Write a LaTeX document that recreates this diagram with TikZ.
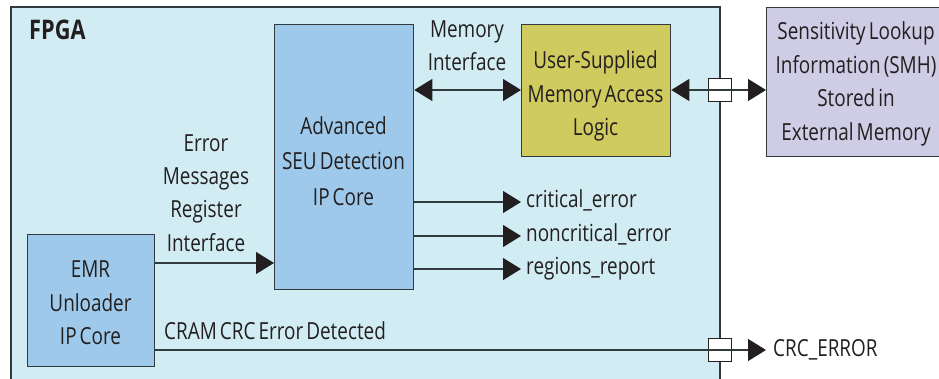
\documentclass[tikz,border=0pt]{standalone}
\usepackage{fontspec}
\setmainfont[FakeStretch=0.805,WordSpace=0.62]{Open Sans}
\usetikzlibrary{arrows.meta}
\definecolor{fpgafill}{HTML}{D2ECF4}
\definecolor{bluefill}{HTML}{9FC9EA}
\definecolor{yellowfill}{HTML}{CFCB5F}
\definecolor{purplefill}{HTML}{CFCCE6}
\definecolor{linecol}{HTML}{333A3E}
\definecolor{tipcol}{HTML}{231F20}
\tikzset{
  x=1pt,y=-1pt,
  every node/.style={text=tipcol,inner sep=0pt,align=center},
  bodytext/.style={font=\fontsize{23.5}{#1}\selectfont},
  corebox/.style={draw=linecol,line width=1.3pt,anchor=north west},
  conn/.style={draw=linecol,line width=1.1pt},
  tip/.style={-{Triangle[length=18pt,width=22pt,fill=tipcol,color=tipcol]}},
  twotip/.style={{Triangle[length=18pt,width=22pt,fill=tipcol,color=tipcol]}-{Triangle[length=18pt,width=22pt,fill=tipcol,color=tipcol]}},
  port/.style={draw=tipcol,line width=1.4pt,minimum width=23pt,minimum height=23pt},
  lbl/.style={anchor=west,bodytext=28},
}
\begin{document}
\begin{tikzpicture}
\useasboundingbox (0,0) rectangle (939,379);
\begin{scope}
\clip (0,0) rectangle (939,379);
% FPGA region
\draw[draw=linecol,line width=1.3pt,fill=fpgafill] (11,400) -- (11,7) -- (720,7) -- (720,400);
% Boxes
\node[corebox,fill=bluefill,minimum width=139pt,minimum height=265pt] (seu) at (274,24) {};
\node[corebox,fill=yellowfill,minimum width=149pt,minimum height=132pt] (mem) at (521,24) {};
\node[corebox,fill=purplefill,minimum width=190pt,minimum height=149pt] (ext) at (766,7) {};
\node[corebox,fill=bluefill,minimum width=127pt,minimum height=132pt] (emr) at (27,234) {};
% coordinates
\coordinate (c1) at (505,90);
\coordinate (p1) at (720,90);
\coordinate (p2) at (720,350);
\coordinate (crit) at (521,202);
\coordinate (ncrit) at (521,236);
\coordinate (reg) at (521,269);
\coordinate (crc) at (766,350);
% ports (white fill first, connector on top)
\node[port,fill=white] (port1) at (p1) {};
\node[port,fill=white] (port2) at (p2) {};
% connectors
\draw[conn,twotip] (seu.east |- c1) -- (mem.west |- c1);
\draw[conn,tip] (seu.east |- crit) -- (crit);
\draw[conn,tip] (seu.east |- ncrit) -- (ncrit);
\draw[conn,tip] (seu.east |- reg) -- (reg);
\draw[conn,tip] (emr.east |- 0,263) -- (seu.west |- 0,263);
\draw[conn,twotip] (mem.east |- p1) -- (ext.west |- p1);
\draw[conn,tip] (emr.east |- p2) -- (crc);
\end{scope}
% Text
\node[font=\fontsize{27}{30}\bfseries\selectfont,anchor=west] (fpga) at (29,30) {FPGA};
\node[bodytext=35.5] (seut) at (343.5,161) {Advanced\\SEU Detection\\IP Core};
\node[bodytext=33.5] (memt) at (595.5,96) {User-Supplied\\Memory Access\\Logic};
\node[bodytext=33.7] (extt) at (856,84) {Sensitivity Lookup\\Information (SMH)\\Stored in\\External Memory};
\node[bodytext=33.5] (emrt) at (90.5,303) {EMR\\Unloader\\IP Core};
\node[bodytext=33.3] (errt) at (206,193) {Error\\Messages\\Register\\Interface};
\node[bodytext=33.5] (memi) at (467,45.5) {Memory\\Interface};
\node[lbl] (l1) at (526,200.5) {critical\_error};
\node[lbl] (l2) at (526,234.5) {noncritical\_error};
\node[lbl] (l3) at (526,268.5) {regions\_report};
\node[lbl] (l4) at (164,331) {CRAM CRC Error Detected};
\node[lbl] (l5) at (773,349.5) {CRC\_ERROR};
\end{tikzpicture}
\end{document}
